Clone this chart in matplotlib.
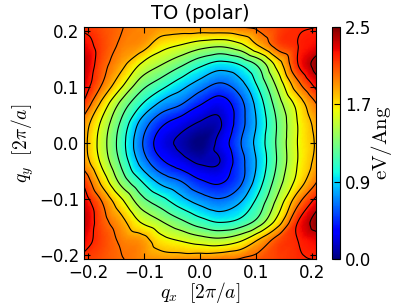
import numpy as np
import matplotlib
matplotlib.use("Agg")
import matplotlib.pyplot as plt
from matplotlib.tri import Triangulation, UniformTriRefiner, CubicTriInterpolator

plt.rcParams['mathtext.fontset'] = 'cm'
plt.rcParams['xtick.direction'] = 'in'
plt.rcParams['ytick.direction'] = 'in'
plt.rcParams['xtick.top'] = True
plt.rcParams['ytick.right'] = True
plt.rcParams['xtick.major.size'] = 4
plt.rcParams['ytick.major.size'] = 4

# grid of q points (units of 2pi/a)
qx = [-0.21, -0.175, -0.14, -0.105, -0.07, -0.035, 0.0, 0.035, 0.07, 0.105, 0.14, 0.175, 0.21]
qy = [0.21, 0.175, 0.14, 0.105, 0.07, 0.035, 0.0, -0.035, -0.07, -0.105, -0.14, -0.175, -0.21]

# TO (polar) field in eV/Ang, rows from top (qy=0.21) to bottom
field = [
    [2.15, 2.08, 2.01, 1.95, 1.92, 1.94, 1.98, 2.02, 2.04, 2.08, 2.13, 2.18, 2.20],
    [2.30, 2.12, 1.97, 1.90, 1.69, 1.60, 1.50, 1.45, 1.55, 1.82, 2.10, 2.20, 2.28],
    [2.42, 2.08, 1.86, 1.58, 1.41, 1.24, 1.05, 0.92, 1.00, 1.25, 1.70, 2.20, 2.50],
    [2.35, 2.00, 1.65, 1.30, 1.10, 0.90, 0.72, 0.58, 0.72, 1.05, 1.48, 1.95, 2.30],
    [2.20, 1.75, 1.34, 1.02, 0.76, 0.62, 0.42, 0.30, 0.52, 0.90, 1.32, 1.68, 2.02],
    [1.95, 1.56, 1.16, 0.74, 0.45, 0.30, 0.18, 0.18, 0.50, 0.85, 1.24, 1.61, 1.88],
    [1.90, 1.50, 1.09, 0.63, 0.30, 0.16, 0.04, 0.26, 0.57, 0.89, 1.25, 1.61, 1.84],
    [1.95, 1.56, 1.16, 0.74, 0.45, 0.30, 0.18, 0.20, 0.51, 0.85, 1.24, 1.61, 1.88],
    [2.20, 1.75, 1.34, 1.02, 0.76, 0.62, 0.44, 0.38, 0.55, 0.92, 1.32, 1.68, 2.02],
    [2.35, 2.00, 1.65, 1.30, 1.10, 0.90, 0.74, 0.65, 0.78, 1.08, 1.48, 1.95, 2.30],
    [2.42, 2.08, 1.86, 1.58, 1.41, 1.24, 1.08, 0.98, 1.05, 1.28, 1.70, 2.20, 2.50],
    [2.30, 2.12, 1.97, 1.90, 1.69, 1.60, 1.52, 1.48, 1.58, 1.84, 2.10, 2.20, 2.28],
    [2.15, 2.08, 2.01, 1.95, 1.92, 1.94, 1.98, 2.02, 2.04, 2.08, 2.13, 2.18, 2.20],
]

vmin, vmax = 0.04, 2.52
contour_levels = [0.2, 0.4, 0.6, 0.8, 1.0, 1.2, 1.4, 1.6, 1.8, 2.0, 2.2, 2.4]

X, Y = np.meshgrid(qx, qy)
Z = np.array(field)
ny, nx = Z.shape
tris = []
for j in range(ny - 1):
    for i in range(nx - 1):
        k = j * nx + i
        tris.append([k, k + 1, k + nx])
        tris.append([k + 1, k + nx + 1, k + nx])
tri = Triangulation(X.ravel(), Y.ravel(), np.array(tris))
interp = CubicTriInterpolator(tri, Z.ravel(), kind='geom')
tri_f, z_f = UniformTriRefiner(tri).refine_field(Z.ravel(), triinterpolator=interp, subdiv=4)

fig = plt.figure(figsize=(4.07, 3.05), dpi=100)
ax = fig.add_axes([0.2064, 0.1508, 0.570, 0.7607])
cax = fig.add_axes([0.8157, 0.1508, 0.0205, 0.7607])

pc = ax.tripcolor(tri_f, z_f, shading='gouraud', cmap='jet', vmin=vmin, vmax=vmax)
ax.tricontour(tri_f, z_f, levels=contour_levels, colors='k', linewidths=0.8)
ax.set_xlim(-0.207, 0.207)
ax.set_ylim(-0.207, 0.207)
ax.set_xticks([-0.2, -0.1, 0.0, 0.1, 0.2])
ax.set_yticks([-0.2, -0.1, 0.0, 0.1, 0.2])
ax.tick_params(labelsize=12)
ax.set_xlabel(r'$q_x\ \ [2\pi/a]$', fontsize=14, labelpad=-1)
ax.set_ylabel(r'$q_y\ \ [2\pi/a]$', fontsize=14, labelpad=2)
ax.set_title('TO (polar)', fontsize=14)

cb = fig.colorbar(pc, cax=cax)
cb.set_ticks(np.linspace(vmin, vmax, 4))
cb.set_ticklabels(['%.1f' % t for t in np.linspace(vmin, vmax, 4)])
cb.ax.tick_params(labelsize=12)
cb.set_label(r'$\mathrm{eV/Ang}$', fontsize=15, labelpad=-2)

fig.savefig('out.png', dpi=100)
